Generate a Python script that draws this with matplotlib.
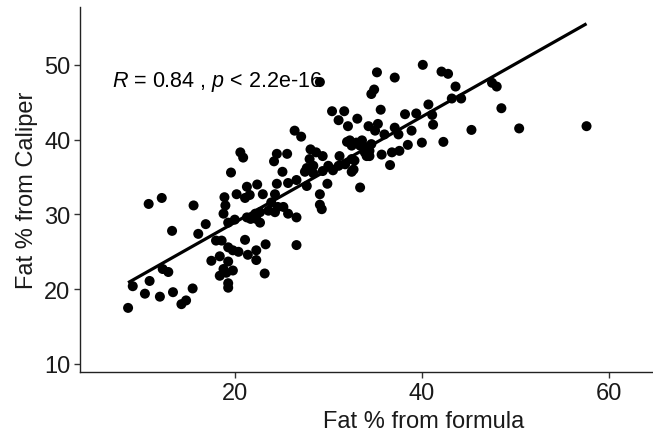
import numpy as np
import matplotlib
matplotlib.use("Agg")
import matplotlib.pyplot as plt

plt.rcParams["font.family"] = ["Liberation Sans", "DejaVu Sans"]
plt.rcParams["mathtext.fontset"] = "custom"
plt.rcParams["mathtext.rm"] = "Liberation Sans"
plt.rcParams["mathtext.it"] = "Liberation Sans:italic"

# Body fat estimates: formula-based (x) vs. caliper measurement (y)
fat_formula = [
    8.6, 9.1, 10.4, 10.9, 12.0, 13.4, 14.3, 14.8, 15.5, 12.3, 12.9, 13.3,
    10.8, 12.2, 15.6, 16.9, 16.1, 18.0, 18.6, 18.9, 19.0, 18.8, 19.6, 17.5,
    18.4, 19.3, 19.3, 18.8, 18.4, 19.1, 19.8, 19.3, 19.3, 19.8, 20.4, 21.1,
    21.4, 22.3, 22.3, 23.3, 26.6, 23.2, 20.0, 19.3, 21.7, 21.3, 22.3, 22.7,
    22.7, 22.2, 23.6, 23.9, 24.6, 25.2, 24.3, 25.7, 26.6, 20.2, 21.1, 21.6,
    21.3, 22.4, 23.0, 24.3, 24.5, 25.7, 26.6, 27.7, 28.4, 27.5, 29.1, 29.1,
    29.3, 29.9, 33.4, 29.4, 30.5, 32.5, 25.1, 20.6, 20.9, 24.5, 24.2, 25.6,
    26.4, 27.1, 28.1, 28.7, 28.0, 29.4, 28.4, 27.7, 29.1, 30.4, 31.7, 31.1,
    32.1, 33.1, 32.0, 32.5, 33.0, 33.6, 31.2, 31.1, 30.0, 32.5, 32.7, 31.8,
    34.3, 35.2, 37.1, 40.1, 42.1, 42.8, 43.6, 47.5, 48.0, 48.5, 34.6, 34.9,
    43.2, 44.2, 35.6, 38.2, 39.4, 40.7, 41.1, 41.2, 35.3, 35.0, 37.1, 37.5,
    38.9, 36.0, 33.4, 34.1, 34.6, 33.9, 34.4, 35.7, 36.8, 37.6, 38.5, 40.0,
    42.3, 45.3, 36.6, 32.8, 50.4, 57.6, 32.3, 34.4, 34.1,
]
fat_caliper = [
    17.5, 20.4, 19.4, 21.1, 19.0, 19.6, 18.0, 18.5, 20.1, 22.7, 22.3, 27.8,
    31.4, 32.2, 31.2, 28.7, 27.4, 26.5, 26.5, 32.3, 31.2, 30.1, 35.6, 23.8,
    24.4, 25.6, 23.7, 22.7, 21.8, 22.2, 22.5, 20.8, 20.2, 25.2, 25.0, 26.6,
    24.6, 25.2, 23.9, 26.0, 25.9, 22.1, 29.3, 28.9, 29.4, 29.6, 29.4, 28.9,
    30.3, 30.1, 30.5, 31.6, 31.0, 31.0, 30.3, 30.1, 29.6, 32.7, 32.2, 32.6,
    33.7, 34.0, 32.7, 32.7, 34.1, 34.2, 34.6, 33.8, 35.5, 35.7, 32.7, 31.3,
    30.7, 34.1, 33.6, 35.8, 35.9, 35.7, 35.7, 38.3, 37.6, 38.1, 37.1, 38.1,
    41.2, 40.4, 38.7, 38.3, 37.4, 37.8, 36.5, 36.2, 47.7, 43.8, 43.8, 42.6,
    41.8, 42.8, 39.7, 39.2, 39.6, 39.9, 37.8, 36.5, 36.5, 37.4, 36.0, 36.7,
    41.8, 49.0, 48.3, 50.0, 49.1, 48.8, 47.1, 47.6, 47.1, 44.2, 46.1, 46.7,
    45.5, 45.5, 44.0, 43.4, 43.5, 44.7, 43.3, 42.0, 42.1, 41.2, 41.6, 40.7,
    41.2, 40.7, 39.2, 39.0, 39.4, 38.3, 37.8, 38.0, 38.3, 38.5, 39.3, 39.6,
    39.7, 41.3, 36.6, 37.2, 41.5, 41.8, 39.9, 38.5, 37.8,
]

x = np.asarray(fat_formula)
y = np.asarray(fat_caliper)

fig = plt.figure(figsize=(6.53, 4.39), dpi=100)
ax = fig.add_axes([0.1225, 0.1497, 0.8760, 0.8313])

ax.scatter(x, y, s=52, color="black", edgecolors="none", zorder=3)

# least-squares fit over the observed range
slope, intercept = np.polyfit(x, y, 1)
xs = np.array([x.min(), x.max()])
ax.plot(xs, intercept + slope * xs, color="black", lw=2.3, zorder=4,
        solid_capstyle="butt")

ax.text(6.9, 47.8, r"$\it{R}$ = 0.84 , $\it{p}$ < 2.2e-16", fontsize=15.5,
        ha="left", va="center", color="black", zorder=2)

ax.set_xlim(3.46, 64.6)
ax.set_ylim(8.89, 57.69)
ax.set_xticks([20, 40, 60])
ax.set_yticks([10, 20, 30, 40, 50])

for side in ("top", "right"):
    ax.spines[side].set_visible(False)
for side in ("left", "bottom"):
    ax.spines[side].set_linewidth(1.0)
    ax.spines[side].set_color("#222222")

ax.tick_params(axis="both", direction="out", length=4, width=1.0,
               color="#333333", labelsize=17, labelcolor="#1a1a1a", pad=3)

ax.set_xlabel("Fat % from formula", fontsize=17, color="#1a1a1a", labelpad=2)
ax.xaxis.set_label_coords(0.601, -0.103)
ax.set_ylabel("Fat % from Caliper", fontsize=17, color="#1a1a1a", labelpad=4)

fig.savefig("out.png", dpi=100)
